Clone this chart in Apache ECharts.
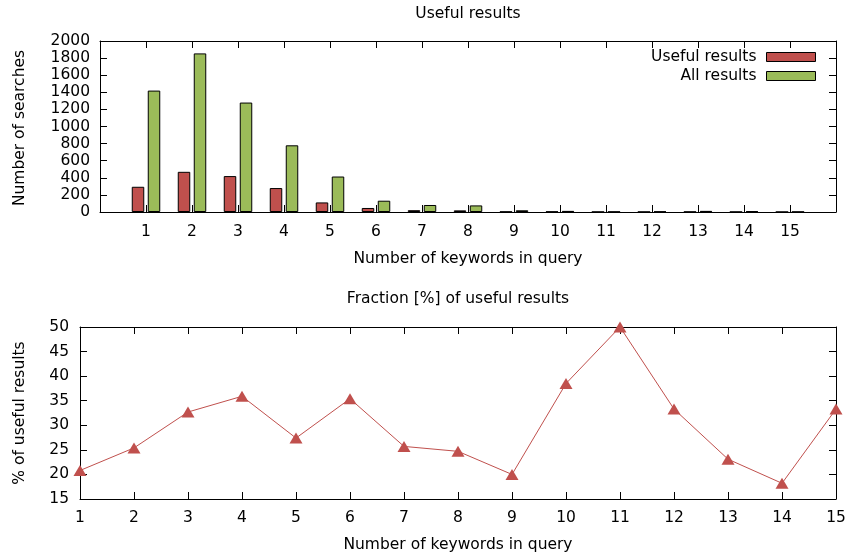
<!DOCTYPE html>
<html>
<head>
<meta charset="utf-8">
<script src="https://cdn.jsdelivr.net/npm/echarts@6/dist/echarts.min.js"></script>
<style>
  html, body { margin: 0; padding: 0; background: #fff; }
  #chart { width: 845px; height: 556px; }
</style>
</head>
<body>
<div id="chart"></div>
<script>
// Number of keywords in a query
const keywordCounts = ['1', '2', '3', '4', '5', '6', '7', '8', '9', '10', '11', '12', '13', '14', '15'];

// Searches per keyword count
const usefulResults = [295, 470, 420, 280, 112, 47, 21, 19, 4, 5, 2, 2, 3, 2, 1];
const allResults = [1420, 1855, 1280, 780, 415, 132, 82, 77, 20, 13, 4, 6, 13, 11, 3];

// Share of useful results, in percent
const usefulFraction = [20.8, 25.4, 32.7, 35.9, 27.4, 35.4, 25.7, 24.7, 20.0, 38.5, 50.0, 33.3, 23.1, 18.2, 33.3];

const FONT = 'DejaVu Sans';
const FS = 15.5;
const INK = '#000';
const RED = '#c0504d';
const GREEN = '#9bbb59';

// The histogram axis runs from 0 to 16, so pad the categories with an empty slot at each end
const histCategories = [''].concat(keywordCounts, ['']);
const pad = arr => ['-'].concat(arr, ['-']);

const axisLine = { show: true, onZero: false, lineStyle: { color: INK, width: 1 } };
const tickIn = { show: true, inside: true, length: 7, interval: 0, lineStyle: { color: INK, width: 1 } };
const label = { color: INK, fontFamily: FONT, fontSize: FS };
const plain = v => String(v);

const chart = echarts.init(document.getElementById('chart'), null, { renderer: 'canvas' });

chart.setOption({
  animation: false,
  backgroundColor: '#fff',
  textStyle: { fontFamily: FONT },
  grid: [
    { left: 100, right: 9, top: 41, height: 171, outerBoundsMode: 'none', containLabel: false },
    { left: 80, right: 9, top: 327, height: 172, outerBoundsMode: 'none', containLabel: false }
  ],
  legend: {
    orient: 'vertical',
    right: 29,
    top: 48,
    padding: 0,
    align: 'right',
    itemWidth: 49,
    itemHeight: 9,
    itemGap: 1,
    icon: 'rect',
    textStyle: { color: INK, fontFamily: FONT, fontSize: FS, lineHeight: 18, padding: [0, 5, 0, 0] },
    data: [
      { name: 'Useful results', itemStyle: { color: RED, borderColor: INK, borderWidth: 1 } },
      { name: 'All results', itemStyle: { color: GREEN, borderColor: INK, borderWidth: 1 } }
    ]
  },
  xAxis: [
    {
      gridIndex: 0, type: 'category', data: histCategories, boundaryGap: false, position: 'bottom',
      axisLine, axisTick: tickIn,
      axisLabel: Object.assign({ interval: 0, margin: 12 }, label)
    },
    {
      gridIndex: 0, type: 'category', data: histCategories, boundaryGap: false, position: 'top',
      axisLine, axisTick: tickIn, axisLabel: { show: false }
    },
    {
      gridIndex: 1, type: 'category', data: keywordCounts, boundaryGap: false, position: 'bottom',
      axisLine, axisTick: tickIn,
      axisLabel: Object.assign({ interval: 0, margin: 11 }, label)
    },
    {
      gridIndex: 1, type: 'category', data: keywordCounts, boundaryGap: false, position: 'top',
      axisLine, axisTick: tickIn, axisLabel: { show: false }
    }
  ],
  yAxis: [
    {
      gridIndex: 0, type: 'value', min: 0, max: 2000, interval: 200, position: 'left',
      axisLine, axisTick: tickIn, splitLine: { show: false },
      axisLabel: Object.assign({ margin: 10, formatter: plain }, label)
    },
    {
      gridIndex: 0, type: 'value', min: 0, max: 2000, interval: 200, position: 'right',
      axisLine, axisTick: tickIn, splitLine: { show: false }, axisLabel: { show: false }
    },
    {
      gridIndex: 1, type: 'value', min: 15, max: 50, interval: 5, position: 'left',
      axisLine, axisTick: tickIn, splitLine: { show: false },
      axisLabel: Object.assign({ margin: 11, formatter: plain }, label)
    },
    {
      gridIndex: 1, type: 'value', min: 15, max: 50, interval: 5, position: 'right',
      axisLine, axisTick: tickIn, splitLine: { show: false }, axisLabel: { show: false }
    }
  ],
  series: [
    {
      name: 'Useful results', type: 'bar', xAxisIndex: 0, yAxisIndex: 0,
      data: pad(usefulResults), barWidth: 12.5, barGap: '28%',
      itemStyle: { color: RED, borderColor: INK, borderWidth: 1 }
    },
    {
      name: 'All results', type: 'bar', xAxisIndex: 0, yAxisIndex: 0,
      data: pad(allResults), barWidth: 12.5, barGap: '28%',
      itemStyle: { color: GREEN, borderColor: INK, borderWidth: 1 }
    },
    {
      name: 'Fraction', type: 'line', xAxisIndex: 2, yAxisIndex: 2,
      data: usefulFraction, symbol: 'triangle', symbolSize: [13, 11], clip: false,
      lineStyle: { color: RED, width: 1 },
      itemStyle: { color: RED }
    }
  ],
  graphic: [
    { type: 'text', x: 468, y: 14, style: { text: 'Useful results', fill: INK, font: FS + 'px "' + FONT + '"', textAlign: 'center', textVerticalAlign: 'middle' } },
    { type: 'text', x: 468, y: 259, style: { text: 'Number of keywords in query', fill: INK, font: FS + 'px "' + FONT + '"', textAlign: 'center', textVerticalAlign: 'middle' } },
    { type: 'text', x: 20, y: 128, rotation: Math.PI / 2, style: { text: 'Number of searches', fill: INK, font: FS + 'px "' + FONT + '"', textAlign: 'center', textVerticalAlign: 'middle' } },
    { type: 'text', x: 458, y: 299, style: { text: 'Fraction [%] of useful results', fill: INK, font: FS + 'px "' + FONT + '"', textAlign: 'center', textVerticalAlign: 'middle' } },
    { type: 'text', x: 458, y: 545, style: { text: 'Number of keywords in query', fill: INK, font: FS + 'px "' + FONT + '"', textAlign: 'center', textVerticalAlign: 'middle' } },
    { type: 'text', x: 20, y: 413, rotation: Math.PI / 2, style: { text: '% of useful results', fill: INK, font: FS + 'px "' + FONT + '"', textAlign: 'center', textVerticalAlign: 'middle' } }
  ]
});
</script>
</body>
</html>
